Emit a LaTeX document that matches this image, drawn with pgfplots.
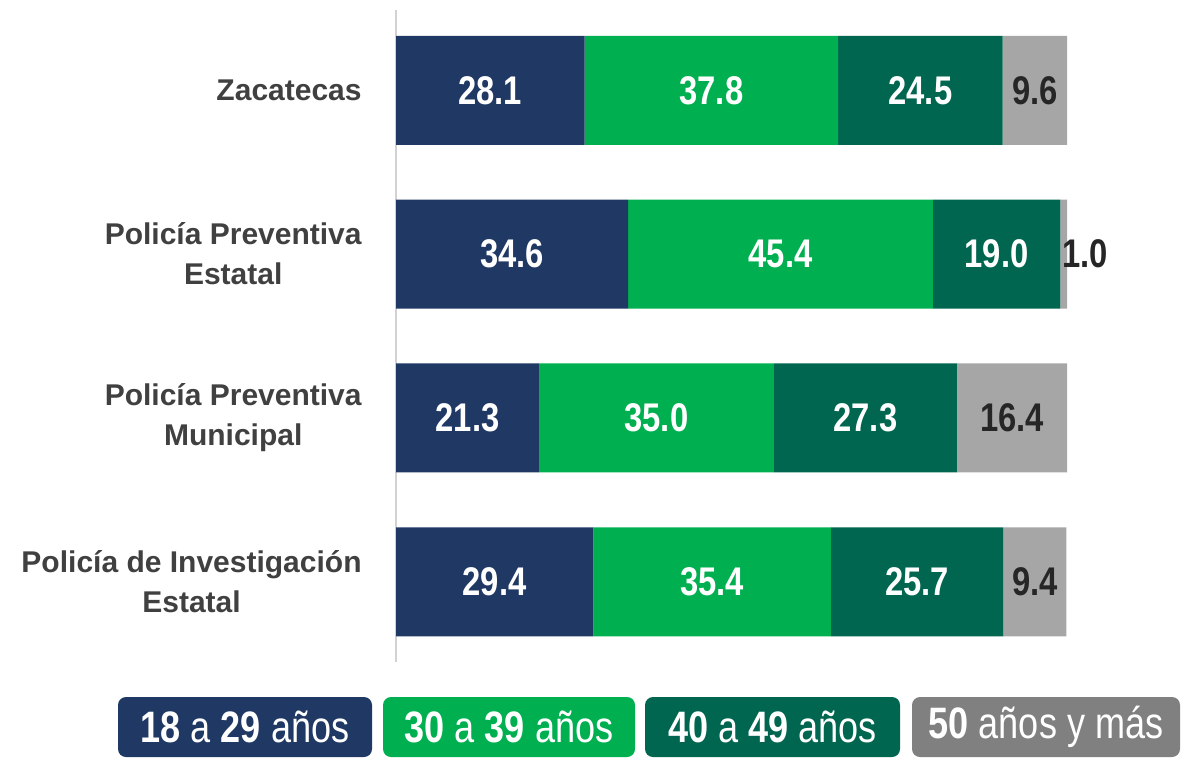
\documentclass[border=0pt]{standalone}
\usepackage{fontspec}
\setmainfont{Liberation Sans}
\newfontfamily\narrow[FakeStretch=0.82]{Liberation Sans}
\usepackage{pgfplots}
\pgfplotsset{compat=1.18}
\definecolor{cA}{HTML}{1F3864}
\definecolor{cB}{HTML}{00B050}
\definecolor{cC}{HTML}{00664F}
\definecolor{cD}{HTML}{A6A6A6}
\definecolor{cDl}{HTML}{808080}
\definecolor{lab}{HTML}{404040}
\definecolor{dark}{HTML}{262626}
\begin{document}
\begin{tikzpicture}
\useasboundingbox (0,0) rectangle (596pt,-381pt);
\pgfplotsset{base/.style={at={(198pt,-5pt)}, anchor=north west, scale only axis,
  width=335.5pt, height=326pt, xmin=0, xmax=100, ymin=-0.49, ymax=3.49, y dir=reverse}}
\begin{axis}[base, xbar stacked, bar width=54.5pt,
  axis x line=none, axis y line*=left,
  y axis line style={draw=gray!35, line width=0.8pt, -},
  ytick={0,1,2,3},
  yticklabels={Zacatecas, {Policía Preventiva\\Estatal}, {Policía Preventiva\\Municipal}, {Policía de Investigación\\Estatal}},
  major tick length=0pt,
  yticklabel style={align=center, font=\bfseries\fontsize{15}{20}\selectfont, text=lab, inner sep=0pt, xshift=-17pt}]
\addplot[fill=cA, draw=none] coordinates {(28.1,0) (34.6,1) (21.3,2) (29.4,3)};
\addplot[fill=cB, draw=none] coordinates {(37.8,0) (45.4,1) (35.0,2) (35.4,3)};
\addplot[fill=cC, draw=none] coordinates {(24.5,0) (19.0,1) (27.3,2) (25.7,3)};
\addplot[fill=cD, draw=none] coordinates {(9.6,0) (1.0,1) (16.4,2) (9.4,3)};
\end{axis}
\begin{axis}[base, hide axis, clip=false,
  every axis plot/.append style={only marks, mark=none, nodes near coords={\pgfplotspointmeta},
    point meta=explicit symbolic, nodes near coords align={anchor=center},
    every node near coord/.append style={anchor=center, inner sep=0pt, font=\narrow\bfseries\fontsize{20}{24}\selectfont}}]
\addplot[every node near coord/.append style={text=white}] coordinates {(14.05,0) [28.1] (17.3,1) [34.6] (10.65,2) [21.3] (14.7,3) [29.4]};
\addplot[every node near coord/.append style={text=white}] coordinates {(47.0,0) [37.8] (57.3,1) [45.4] (38.8,2) [35.0] (47.1,3) [35.4]};
\addplot[every node near coord/.append style={text=white}] coordinates {(78.15,0) [24.5] (89.5,1) [19.0] (69.95,2) [27.3] (77.65,3) [25.7]};
\addplot[every node near coord/.append style={text=dark}] coordinates {(95.2,0) [9.6] (102.7,1) [1.0] (91.8,2) [16.4] (95.2,3) [9.4]};
\end{axis}
\tikzset{lg/.style={rounded corners=4pt, minimum height=30pt, text=white, inner sep=0pt,
  font=\narrow\fontsize{22}{26}\selectfont, anchor=center}}
\node[lg, fill=cA, minimum width=127pt] at (122.5pt,-363.5pt) {\textbf{18} a \textbf{29} años};
\node[lg, fill=cB, minimum width=126pt] at (254.5pt,-363.5pt) {\textbf{30} a \textbf{39} años};
\node[lg, fill=cC, minimum width=127.5pt] at (386.25pt,-363.5pt) {\textbf{40} a \textbf{49} años};
\node[lg, fill=cDl, minimum width=134pt] at (523pt,-363.5pt) {\textbf{50} años y más};
\end{tikzpicture}
\end{document}
